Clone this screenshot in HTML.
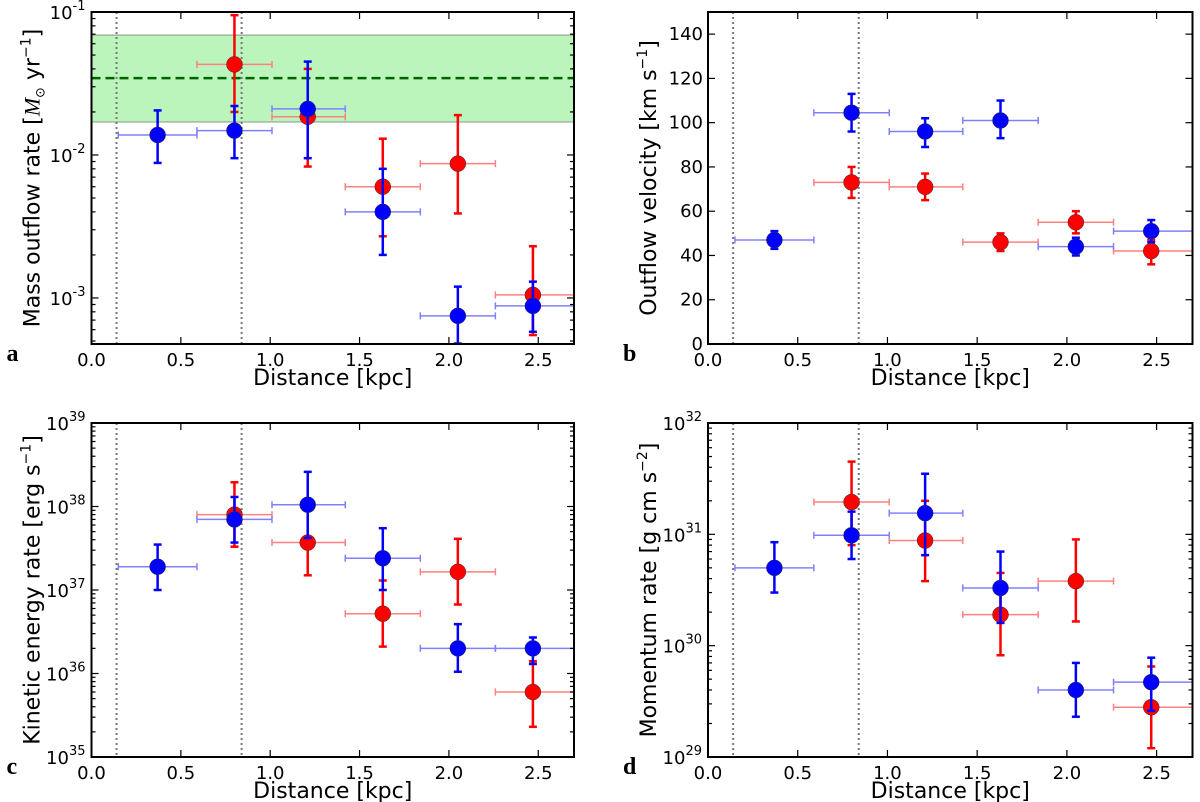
<!DOCTYPE html>
<html><head><meta charset="utf-8"><style>
html,body{margin:0;padding:0;background:#fff;}
svg{display:block;font-family:"DejaVu Sans","Liberation Sans",sans-serif;}
</style></head><body>
<svg id="fig" width="1200" height="802" viewBox="0 0 1200 802"></svg>
<script>
const xs = [0.37, 0.80, 1.21, 1.63, 2.05, 2.47];
const xLo = [0.15, 0.59, 1.01, 1.42, 1.84, 2.26];
const xHi = [0.59, 1.01, 1.42, 1.84, 2.26, 2.70];
const redX = [0.80, 1.21, 1.63, 2.05, 2.47];
const redXLo = [0.59, 1.01, 1.42, 1.84, 2.26];
const redXHi = [1.01, 1.42, 1.84, 2.26, 2.70];
const xTicks = [0, 0.5, 1.0, 1.5, 2.0, 2.5];
const xTickLabels = ["0.0","0.5","1.0","1.5","2.0","2.5"];
const vlines = [0.14, 0.84];

// panel a: mass outflow rate
const massBlue = [0.0138, 0.0148, 0.021, 0.004, 0.00075, 0.00088];
const massBlueLo = [0.0088, 0.0095, 0.0095, 0.002, 0.00048, 0.00058];
const massBlueHi = [0.0205, 0.022, 0.045, 0.008, 0.0012, 0.0013];
const massRed = [0.043, 0.0185, 0.006, 0.0087, 0.00105];
const massRedLo = [0.02, 0.0083, 0.0027, 0.0039, 0.00055];
const massRedHi = [0.095, 0.04, 0.013, 0.019, 0.0023];
const massBand = [0.017, 0.069];
const massMean = [0.0345];

// panel b: outflow velocity
const velBlue = [47, 104.5, 96, 101, 44, 51];
const velBlueLo = [43, 96, 89, 93, 40, 46];
const velBlueHi = [51, 113, 102, 110, 48, 56];
const velRed = [73, 71, 46, 55, 42];
const velRedLo = [66, 65, 42, 50, 36];
const velRedHi = [80, 77, 50, 60, 47];

// panel c: kinetic energy rate
const keBlue = [1.9e37, 7e37, 1.05e38, 2.4e37, 2e36, 2e36];
const keBlueLo = [1.0e37, 3.7e37, 4.2e37, 1.0e37, 1.05e36, 1.3e36];
const keBlueHi = [3.5e37, 1.3e38, 2.6e38, 5.5e37, 3.9e36, 2.7e36];
const keRed = [8e37, 3.7e37, 5.2e36, 1.65e37, 6e35];
const keRedLo = [3.3e37, 1.5e37, 2.1e36, 6.7e36, 2.3e35];
const keRedHi = [1.95e38, 9e37, 1.3e37, 4.1e37, 1.4e36];

// panel d: momentum rate
const pBlue = [5e30, 9.8e30, 1.55e31, 3.3e30, 4e29, 4.7e29];
const pBlueLo = [3e30, 6e30, 6.5e30, 1.6e30, 2.3e29, 2.6e29];
const pBlueHi = [8.5e30, 1.6e31, 3.5e31, 7e30, 7e29, 7.8e29];
const pRed = [1.95e31, 8.8e30, 1.9e30, 3.8e30, 2.8e29];
const pRedLo = [8e30, 3.8e30, 8.2e29, 1.65e30, 1.2e29];
const pRedHi = [4.5e31, 2e31, 4.5e30, 9e30, 6.5e29];

const NS = "http://www.w3.org/2000/svg";
const svg = document.getElementById('fig');
function mk(tag, attrs, parent){
  const e = document.createElementNS(NS, tag);
  for (const k in attrs) e.setAttribute(k, attrs[k]);
  (parent||svg).appendChild(e);
  return e;
}

function panel(cfg){
  const g = mk('g', {});
  
  
  const L=cfg.x0, R=cfg.x1, T=cfg.y0, B=cfg.y1;
  const sx = v => L + (v-0)/(2.7-0)*(R-L);
  let sy;
  if (cfg.log) { const a=Math.log10(cfg.ymin), b=Math.log10(cfg.ymax); sy = v => B - (Math.log10(v)-a)/(b-a)*(B-T); }
  else sy = v => B - (v-cfg.ymin)/(cfg.ymax-cfg.ymin)*(B-T);
  const clip = 'clip-'+cfg.name;
  const cp = mk('clipPath', {id:clip}, g); mk('rect',{x:L,y:T,width:R-L,height:B-T},cp);
  const plot = mk('g', {'clip-path':'url(#'+clip+')'}, g);
  
  
  if (cfg.band){
    const r = mk('rect',{x:L,y:sy(cfg.band[1]),width:R-L,height:sy(cfg.band[0])-sy(cfg.band[1]),fill:'#90ee90','fill-opacity':0.6,stroke:'#555','stroke-opacity':0.6,'stroke-width':1}, plot);
    
    
    const m = mk('line',{x1:L,x2:R,y1:sy(cfg.mean[0]),y2:sy(cfg.mean[0]),stroke:'#006400','stroke-width':2.5,'stroke-dasharray':'9,5'}, plot);
    
    
  }
  vlines.forEach(v=>{
    const l = mk('line',{x1:sx(v),x2:sx(v),y1:T,y2:B,stroke:'#777','stroke-width':2,'stroke-dasharray':'2,3'}, plot);
    
    
  });
  function series(X, XL, XH, Y, YL, YH, col, lite, nm){
    X.forEach((x,i)=>{
      const pg = mk('g',{}, plot);
      
      
      const y=sy(Y[i]);
      mk('line',{x1:sx(XL[i]),x2:sx(XH[i]),y1:y,y2:y,stroke:lite,'stroke-width':1.5},pg);
      [XL[i],XH[i]].forEach(v=>mk('line',{x1:sx(v),x2:sx(v),y1:y-3.5,y2:y+3.5,stroke:lite,'stroke-width':1.5},pg));
      const ylo=Math.min(sy(YL[i]),B+5), yhi=sy(YH[i]);
      mk('line',{x1:sx(x),x2:sx(x),y1:ylo,y2:yhi,stroke:col,'stroke-width':2.5},pg);
      [ylo,yhi].forEach(v=>mk('line',{x1:sx(x)-4,x2:sx(x)+4,y1:v,y2:v,stroke:col,'stroke-width':2.5},pg));
      mk('circle',{cx:sx(x),cy:y,r:8,fill:col,stroke:'#333','stroke-width':0.5},pg);
    });
  }
  series(redX, redXLo, redXHi, cfg.red, cfg.redLo, cfg.redHi, '#ff0000', '#ff8080', 'red');
  series(xs, xLo, xHi, cfg.blue, cfg.blueLo, cfg.blueHi, '#0000ff', '#8080ff', 'blue');
  const fr = mk('rect',{x:L,y:T,width:R-L,height:B-T,fill:'none',stroke:'#000','stroke-width':2}, g);
  
  
  xTicks.forEach((v,i)=>{
    const X=sx(v);
    mk('line',{x1:X,x2:X,y1:B,y2:B-7,stroke:'#000','stroke-width':1.2},g);
    mk('line',{x1:X,x2:X,y1:T,y2:T+7,stroke:'#000','stroke-width':1.2},g);
    const t = mk('text',{x:X,y:B+22,'text-anchor':'middle','font-size':18,fill:'#000'},g);
    t.textContent = xTickLabels[i];
    
    
  });
  const xl = mk('text',{x:(L+R)/2,y:B+41,'text-anchor':'middle','font-size':22,fill:'#000'},g);
  xl.textContent = 'Distance [kpc]';
  
  
  if (cfg.log){
    const a=Math.log10(cfg.ymin), b=Math.log10(cfg.ymax);
    for (let e=Math.floor(a); e<=Math.ceil(b); e++){
      for (let m=1;m<10;m++){
        const v=m*Math.pow(10,e); if (v<cfg.ymin*0.999||v>cfg.ymax*1.001) continue;
        const Y=sy(v), len=m===1?7:4;
        mk('line',{x1:L,x2:L+len,y1:Y,y2:Y,stroke:'#000','stroke-width':1.2},g);
        mk('line',{x1:R,x2:R-len,y1:Y,y2:Y,stroke:'#000','stroke-width':1.2},g);
        if (m===1){
          const t = mk('text',{x:L-6,y:Y+7,'text-anchor':'end','font-size':18,fill:'#000'},g);
          
          
          const s1 = mk('tspan',{},t); s1.textContent='10';
          const s2 = mk('tspan',{dy:-9,'font-size':13},t); s2.textContent=String(e);
        }
      }
    }
  } else {
    for (let v=0; v<=140; v+=20){
      const Y=sy(v);
      mk('line',{x1:L,x2:L+7,y1:Y,y2:Y,stroke:'#000','stroke-width':1.2},g);
      mk('line',{x1:R,x2:R-7,y1:Y,y2:Y,stroke:'#000','stroke-width':1.2},g);
      const t = mk('text',{x:L-5,y:Y+6,'text-anchor':'end','font-size':18,fill:'#000'},g);
      t.textContent = String(v);
      
      
    }
  }
  const yl = mk('text',{x:0,y:0,'text-anchor':'middle','font-size':22,fill:'#000',transform:`translate(${L-52},${(T+B)/2}) rotate(-90)`},g);
  
  
  yl.innerHTML = cfg.ylabel;
  const pl = mk('text',{x:L-85,y:B+17,'font-size':24,'font-weight':'bold','font-family':'"Liberation Serif",serif',fill:'#000'},g);
  pl.textContent = cfg.letter;
  
  
}

panel({name:'panel-a-mass-outflow', letter:'a', x0:91.5,x1:574,y0:12,y1:344, log:true, ymin:Math.pow(10,-3.322), ymax:0.1,
  blue:massBlue,blueLo:massBlueLo,blueHi:massBlueHi, red:massRed,redLo:massRedLo,redHi:massRedHi,
  band:massBand, mean:massMean,
  ylabel:'Mass outflow rate [<tspan font-style="italic" font-family="Liberation Serif,serif">M</tspan><tspan font-size="13" dy="5">⊙</tspan><tspan dy="-5"> yr</tspan><tspan font-size="14" dy="-9">−1</tspan><tspan dy="9">]</tspan>'});
panel({name:'panel-b-outflow-velocity', letter:'b', x0:708,x1:1192.5,y0:12,y1:344, log:false, ymin:0, ymax:150,
  blue:velBlue,blueLo:velBlueLo,blueHi:velBlueHi, red:velRed,redLo:velRedLo,redHi:velRedHi,
  ylabel:'Outflow velocity [km s<tspan font-size="14" dy="-9">−1</tspan><tspan dy="9">]</tspan>'});
panel({name:'panel-c-kinetic-energy', letter:'c', x0:91.5,x1:574,y0:423,y1:757, log:true, ymin:1e35, ymax:1e39,
  blue:keBlue,blueLo:keBlueLo,blueHi:keBlueHi, red:keRed,redLo:keRedLo,redHi:keRedHi,
  ylabel:'Kinetic energy rate [erg s<tspan font-size="14" dy="-9">−1</tspan><tspan dy="9">]</tspan>'});
panel({name:'panel-d-momentum-rate', letter:'d', x0:708,x1:1192.5,y0:423,y1:757, log:true, ymin:1e29, ymax:1e32,
  blue:pBlue,blueLo:pBlueLo,blueHi:pBlueHi, red:pRed,redLo:pRedLo,redHi:pRedHi,
  ylabel:'Momentum rate [g cm s<tspan font-size="14" dy="-9">−2</tspan><tspan dy="9">]</tspan>'});
</script>
</body></html>
